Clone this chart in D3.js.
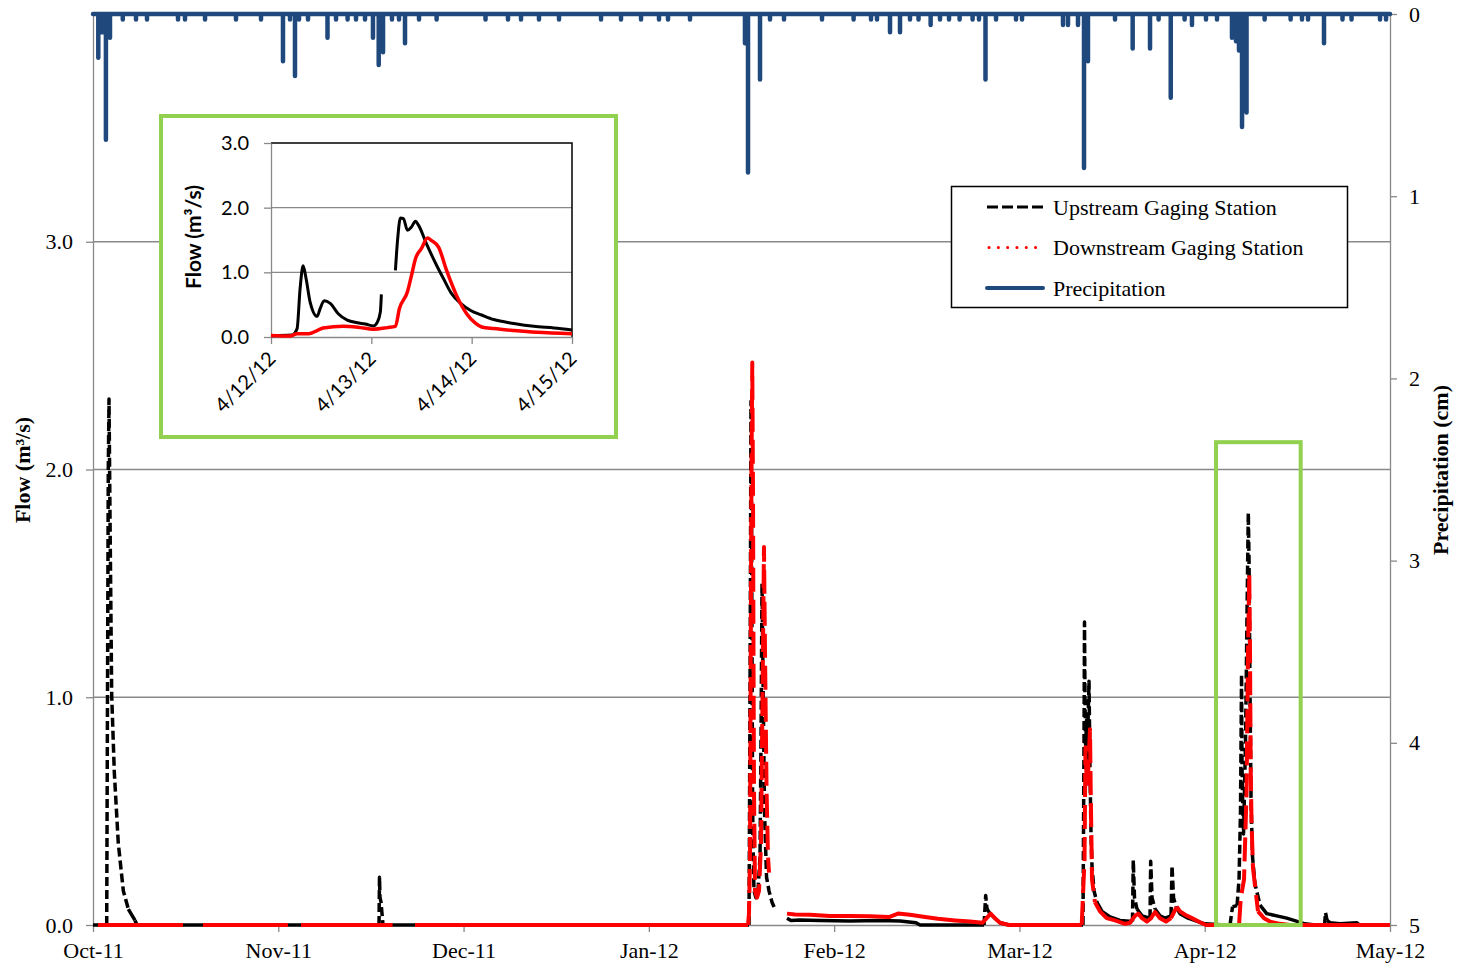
<!DOCTYPE html>
<html>
<head>
<meta charset="utf-8">
<script src="https://cdn.jsdelivr.net/npm/d3@7"></script>
<style>
  body { margin: 0; background: #fff; }
  svg { display: block; font-family: "Liberation Serif", "Times New Roman", serif; }
</style>
</head>
<body>
<svg id="chart" width="1458" height="967"></svg>
<script>
// ---- data (days counted from Oct 1 2011) ----
var totalDays = 213;
var monthLabels = ["Oct-11", "Nov-11", "Dec-11", "Jan-12", "Feb-12", "Mar-12", "Apr-12", "May-12"];
var flowTicks = [0, 1, 2, 3];
var precipTicks = [0, 1, 2, 3, 4, 5];

// precipitation, [day, cm]
var precipEvents = [
  [0.87,0.24],[1.48,0.10],[2.12,0.69],[2.79,0.13],[4.89,0.03],[7.06,0.03],[8.87,0.03],[13.96,0.03],
  [15.11,0.03],[18.4,0.03],[23.48,0.03],[27.59,0.03],[31.2,0.26],[32.35,0.03],[33.17,0.34],[33.83,0.03],
  [35.31,0.03],[38.51,0.13],[39.91,0.03],[41.81,0.03],[43.19,0.03],[44.67,0.03],[45.98,0.13],[46.92,0.28],
  [47.63,0.21],[49.1,0.03],[50.25,0.03],[51.24,0.16],[53.54,0.03],[56.43,0.03],[64.46,0.03],[68.15,0.03],
  [70.29,0.03],[73.24,0.03],[76.53,0.03],[83.43,0.03],[86.71,0.03],[90.0,0.03],[92.95,0.03],[94.43,0.03],
  [98.04,0.03],[107.07,0.16],[107.57,0.87],[109.54,0.36],[111.18,0.03],[113.48,0.03],[119.72,0.03],
  [124.91,0.03],[127.77,0.03],[128.75,0.03],[130.89,0.10],[132.53,0.10],[134.17,0.03],[135.57,0.03],
  [137.56,0.06],[139.1,0.03],[140.58,0.03],[142.32,0.03],[144.45,0.03],[145.5,0.03],[146.57,0.36],
  [148.3,0.03],[151.58,0.03],[152.57,0.03],[159.3,0.06],[160.12,0.06],[161.76,0.06],[162.75,0.845],
  [163.4,0.26],[167.84,0.03],[170.74,0.19],[173.59,0.19],[175.0,0.03],[176.99,0.46],[179.27,0.03],
  [180.48,0.06],[182.78,0.03],[184.59,0.03],[187.05,0.13],[187.71,0.15],[188.2,0.2],[188.7,0.62],
  [189.03,0.4],[189.44,0.54],[192.41,0.03],[196.68,0.03],[198.55,0.03],[199.54,0.03],[202.16,0.16],
  [205.2,0.03],[206.68,0.03],[211.36,0.03],[212.35,0.03]
];

// upstream gaging station, [day, m3/s]; null = no record
var upstream = [
  [0,0],[2.25,0],[2.38,1.0],[2.51,2.0],[2.63,2.31],[2.79,1.8],[3.07,1.01],[3.50,0.67],[4.15,0.36],
  [4.98,0.15],[5.80,0.07],[6.90,0.02],[7.23,0],
  [46.97,0],[47.05,0.21],[47.13,0.12],[47.30,0.1],[47.46,0.05],[47.63,0],
  [107.73,0],[107.81,0.45],[107.94,1.3],[108.06,2.3],[108.14,1.9],[108.23,1.2],[108.31,0.6],[108.39,0.35],
  [108.55,0.15],[108.88,0.12],[109.21,0.15],[109.54,0.3],[109.70,0.8],[109.87,1.5],[110.03,1.1],
  [110.28,0.5],[110.61,0.21],[111.02,0.15],[111.51,0.1],[112.00,0.07],null,
  [113.97,0.03],[114.62,0.02],[116.1,0.022],[119.39,0.02],[124.31,0.018],[129.24,0.02],[132.53,0.018],
  [135.16,0.01],[135.82,0],[146.33,0],[146.60,0.13],[146.82,0.07],[147.31,0.05],[148.13,0.03],
  [148.95,0.01],[150.43,0],
  [162.58,0],[162.75,0.8],[162.83,1.33],[162.91,1.0],[162.99,0.75],[163.16,0.9],[163.24,0.7],[163.57,1.07],
  [163.73,0.68],[163.90,0.4],[164.06,0.26],[164.39,0.15],[164.88,0.1],[165.70,0.06],[167.02,0.035],
  [168.66,0.02],[170.71,0.015],[170.84,0.285],[171.04,0.12],[171.45,0.07],[172.27,0.04],[173.59,0.03],
  [173.70,0.28],[173.92,0.12],[174.41,0.07],[175.23,0.04],[176.05,0.03],[177.04,0.04],[177.20,0.26],
  [177.45,0.12],[177.86,0.08],[178.51,0.05],[179.83,0.03],[181.47,0.015],[182.62,0.005],[185.91,0],
  [186.73,0],[187.14,0.08],[187.88,0.085],[188.21,0.2],[188.45,0.5],[188.62,1.1],[188.70,0.69],
  [188.78,0.57],[188.95,0.4],[189.27,0.8],[189.36,1.0],[189.52,1.37],[189.73,1.81],[189.85,1.6],
  [190.01,1.03],[190.18,0.55],[190.42,0.3],[190.83,0.18],[191.65,0.088],[192.75,0.05],[194.40,0.04],
  [196.04,0.03],[197.89,0.015],[199.04,0.005],[200.69,0],[202.25,0],[202.41,0.055],[202.66,0.02],
  [203.15,0.01],[204.79,0.005],[207.51,0.01],[208,0],[213,0]
];

// downstream gaging station, [day, m3/s]; null = no record
var downstream = [
  [0.82,0],[14.78,0],null,[18.06,0],[32.02,0],null,[34.16,0],[49.20,0],null,[52.88,0],[107.57,0],
  [107.73,0.05],[107.90,0.3],[107.98,0.9],[108.06,1.5],[108.14,2.0],[108.27,2.47],[108.39,1.9],
  [108.47,1.2],[108.55,0.6],[108.72,0.15],[109.05,0.12],[109.37,0.15],[109.70,0.35],[109.95,1.0],
  [110.19,1.66],[110.36,1.2],[110.61,0.6],[110.85,0.3],[111.02,0.23],null,
  [113.97,0.05],[115.28,0.046],[117.75,0.045],[121.03,0.04],[124.31,0.04],[127.60,0.038],[130.72,0.035],
  [132.20,0.05],[134.17,0.045],[136.64,0.035],[138.77,0.027],[141.56,0.02],[144.03,0.015],[146.09,0.01],
  [147.41,0.05],[148.30,0.025],[148.95,0.01],[150.43,0],
  [162.37,0],[162.83,0.285],[162.99,0.78],[163.12,0.68],[163.32,0.6],[163.73,0.86],[163.85,0.59],
  [164.06,0.2],[164.55,0.1],[165.37,0.06],[166.47,0.03],[167.84,0.02],[169.48,0.005],[170.30,0.01],
  [171.12,0.04],[171.66,0.05],[172.27,0.03],[173.09,0.015],[173.75,0.03],[174.41,0.057],[175.23,0.03],
  [176.22,0.015],[177.04,0.03],[177.97,0.08],[178.51,0.06],[179.34,0.045],[180.48,0.03],[181.80,0.012],
  [182.78,0],
  [188.21,0],[188.45,0.1],[188.70,0.15],[189.03,0.2],[189.44,0.58],[189.68,1.19],[189.89,1.54],
  [190.01,1.2],[190.12,0.69],[190.26,0.45],[190.50,0.25],[191.32,0.06],[192.31,0.03],[193.29,0.015],
  [194.93,0.005],[196.57,0],[213,0]
];

// highlighted storm window shown in the inset
var zoomWindow = { start: 184.43, end: 198.33, top: 2.12 };

// inset, days from 4/12/12
var insetLabels = ["4/12/12", "4/13/12", "4/14/12", "4/15/12"];
var insetFlowTicks = [0, 1, 2, 3];
var insetUp = [
  [0,0.02],[0.21,0.03],[0.26,0.13],[0.29,0.75],[0.32,1.10],[0.35,0.90],[0.39,0.54],[0.46,0.32],
  [0.49,0.44],[0.53,0.56],[0.59,0.52],[0.67,0.36],[0.76,0.26],[0.86,0.22],[0.94,0.20],[1.02,0.17],
  [1.06,0.23],[1.09,0.39],[1.10,0.66],null,
  [1.24,1.03],[1.26,1.47],[1.29,1.84],[1.32,1.83],[1.36,1.65],[1.40,1.70],[1.44,1.79],[1.47,1.73],
  [1.55,1.44],[1.65,1.11],[1.72,0.90],[1.80,0.67],[1.89,0.52],[1.99,0.41],[2.10,0.34],[2.22,0.27],
  [2.42,0.21],[2.62,0.165],[2.82,0.14],[3.0,0.11]
];
var insetDown = [
  [0,0.025],[0.19,0.015],[0.26,0.05],[0.375,0.05],[0.46,0.10],[0.52,0.14],[0.72,0.165],[0.89,0.145],
  [1.02,0.12],[1.16,0.145],[1.24,0.165],[1.28,0.44],[1.36,0.70],[1.40,0.95],[1.44,1.21],[1.50,1.37],
  [1.56,1.53],[1.60,1.49],[1.67,1.39],[1.75,1.03],[1.85,0.64],[1.95,0.36],[2.04,0.21],[2.10,0.155],
  [2.22,0.13],[2.42,0.10],[2.65,0.072],[3.0,0.05]
];

var legendItems = ["Upstream Gaging Station", "Downstream Gaging Station", "Precipitation"];

// ---- setup ----
var svg = d3.select("#chart");
var gray = "#898989", green = "#92D050", blue = "#1F497D";

var x = d3.scaleLinear().domain([0, totalDays]).range([93, 1390]);
var yF = d3.scaleLinear().domain([0, 4]).range([925, 14]);
var yP = d3.scaleLinear().domain([0, 5]).range([14, 925]);
var monthTicks = monthLabels.map((m, i) => i * totalDays / (monthLabels.length - 1));

svg.append("rect").attr("width", 1458).attr("height", 967).attr("fill", "#fff");

// gridlines
svg.append("g").selectAll("line")
  .data([1, 2, 3, 4])
  .join("line")
  .attr("x1", 93).attr("x2", 1390)
  .attr("y1", d => yF(d)).attr("y2", d => yF(d))
  .attr("stroke", gray).attr("stroke-width", 1.3);

function styleAxis(g, size) {
  g.select(".domain").attr("stroke", gray).attr("stroke-width", 1.3);
  g.selectAll(".tick line").attr("stroke", gray).attr("stroke-width", 1.3);
  g.selectAll(".tick text").attr("fill", "#000").style("font-size", size + "px");
  g.attr("font-family", null);
}

svg.append("g")
  .attr("transform", "translate(93,0)")
  .call(d3.axisLeft(yF).tickValues(flowTicks).tickFormat(d3.format(".1f")).tickSize(7).tickSizeOuter(0).tickPadding(13))
  .call(g => styleAxis(g, 22));

svg.append("g")
  .attr("transform", "translate(1390,0)")
  .call(d3.axisRight(yP).tickValues(precipTicks).tickFormat(d3.format("d")).tickSize(7).tickSizeOuter(0).tickPadding(12))
  .call(g => styleAxis(g, 22));

svg.append("g")
  .attr("transform", "translate(0,925)")
  .call(d3.axisBottom(x).tickValues(monthTicks).tickFormat((d, i) => monthLabels[i]).tickSize(7).tickSizeOuter(0).tickPadding(10))
  .call(g => styleAxis(g, 22));

// axis titles
svg.append("text")
  .attr("transform", "translate(30,470) rotate(-90)")
  .attr("text-anchor", "middle")
  .style("font-size", "22px").style("font-weight", "bold")
  .html("Flow (m<tspan>³</tspan>/s)");

svg.append("text")
  .attr("transform", "translate(1448,470) rotate(-90)")
  .attr("text-anchor", "middle")
  .style("font-size", "22px").style("font-weight", "bold")
  .text("Precipitation (cm)");

// flow series: steep stretches get the dash pattern, flat stretches stay solid
function drawSeries(parent, data, xs, ys, color, width, dash) {
  var line = d3.line().x(d => xs(d[0])).y(d => ys(d[1]));
  var runs = [], cur = null;
  for (var i = 1; i < data.length; i++) {
    var a = data[i - 1], b = data[i];
    if (!a || !b) { cur = null; continue; }
    var dx = Math.abs(xs(b[0]) - xs(a[0])), dy = Math.abs(ys(b[1]) - ys(a[1]));
    var steep = dy > 2 * dx && dy > 3;
    if (!cur || cur.steep !== steep) {
      cur = { steep: steep, pts: [a] };
      runs.push(cur);
    }
    cur.pts.push(b);
  }
  parent.append("g").selectAll("path")
    .data(runs)
    .join("path")
    .attr("d", r => line(r.pts))
    .attr("fill", "none")
    .attr("stroke", color)
    .attr("stroke-width", width)
    .attr("stroke-linejoin", "round")
    .attr("stroke-dasharray", r => r.steep ? dash : null);
}

drawSeries(svg, upstream, x, yF, "#000", 3.5, "9,4");
drawSeries(svg, downstream, x, yF, "#FF0000", 4, "24,8");

// precipitation hangs from the top axis
var precipPts = [[0, 0]];
precipEvents.forEach(e => { precipPts.push([e[0], 0], e, [e[0], 0]); });
precipPts.push([totalDays, 0]);

svg.append("path")
  .datum(precipPts)
  .attr("d", d3.line().x(d => x(d[0])).y(d => yP(d[1])))
  .attr("fill", "none")
  .attr("stroke", blue)
  .attr("stroke-width", 4.5)
  .attr("stroke-linejoin", "round")
  .attr("stroke-linecap", "round");

// highlighted window
svg.append("rect")
  .attr("x", x(zoomWindow.start))
  .attr("y", yF(zoomWindow.top))
  .attr("width", x(zoomWindow.end) - x(zoomWindow.start))
  .attr("height", yF(0) - yF(zoomWindow.top))
  .attr("fill", "none")
  .attr("stroke", green)
  .attr("stroke-width", 4);

// ---- inset ----
var inset = svg.append("g").style("font-family", "Lato, 'Noto Sans', sans-serif");
inset.append("rect")
  .attr("x", 161).attr("y", 116).attr("width", 455).attr("height", 321)
  .attr("fill", "#fff").attr("stroke", green).attr("stroke-width", 4);

var ix = d3.scaleLinear().domain([0, 3]).range([271, 572]);
var iy = d3.scaleLinear().domain([0, 3]).range([337, 143]);

inset.append("g").selectAll("line")
  .data([1, 2])
  .join("line")
  .attr("x1", ix(0)).attr("x2", ix(3))
  .attr("y1", d => iy(d)).attr("y2", d => iy(d))
  .attr("stroke", gray).attr("stroke-width", 1.3);

inset.append("path")
  .attr("d", "M" + ix(0) + "," + iy(3) + "H" + ix(3) + "V" + iy(0))
  .attr("fill", "none").attr("stroke", "#000").attr("stroke-width", 1.5);

inset.append("g")
  .attr("transform", "translate(" + ix(0) + ",0)")
  .call(d3.axisLeft(iy).tickValues(insetFlowTicks).tickFormat(d3.format(".1f")).tickSize(7).tickSizeOuter(0).tickPadding(15))
  .call(g => styleAxis(g, 20));

inset.append("g")
  .attr("transform", "translate(0," + iy(0) + ")")
  .call(d3.axisBottom(ix).tickValues([0, 1, 2, 3]).tickFormat("").tickSize(7).tickSizeOuter(0))
  .call(g => styleAxis(g, 20));

inset.append("g").selectAll("text")
  .data(insetLabels)
  .join("text")
  .attr("transform", (d, i) => "translate(" + (ix(i) + 6) + ",360) rotate(-45)")
  .attr("text-anchor", "end")
  .style("font-size", "20px")
  .text(d => d);

inset.append("text")
  .attr("transform", "translate(201,237) rotate(-90)")
  .attr("text-anchor", "middle")
  .style("font-size", "21px").style("font-weight", "bold")
  .text("Flow (m³/s)");

var insetLine = d3.line().defined(d => d).x(d => ix(d[0])).y(d => iy(d[1])).curve(d3.curveMonotoneX);
inset.append("path").datum(insetUp)
  .attr("d", insetLine).attr("fill", "none").attr("stroke", "#000").attr("stroke-width", 3);
inset.append("path").datum(insetDown)
  .attr("d", insetLine).attr("fill", "none").attr("stroke", "#FF0000").attr("stroke-width", 3.5);

// ---- legend ----
var legend = svg.append("g");
legend.append("rect")
  .attr("x", 951.5).attr("y", 186.5).attr("width", 396).attr("height", 121)
  .attr("fill", "#fff").attr("stroke", "#000").attr("stroke-width", 1.5);

var legendStyles = [
  { color: "#000", width: 3, dash: "11,4", cap: "butt" },
  { color: "#FF0000", width: 3, dash: "0.1,9.2", cap: "round" },
  { color: blue, width: 4, dash: null, cap: "round" }
];

var rows = legend.selectAll("g.row")
  .data(legendItems)
  .join("g")
  .attr("class", "row")
  .attr("transform", (d, i) => "translate(0," + (207 + i * 40.5) + ")");

rows.append("line")
  .attr("x1", (d, i) => i === 1 ? 989 : 987).attr("x2", 1043)
  .attr("stroke", (d, i) => legendStyles[i].color)
  .attr("stroke-width", (d, i) => legendStyles[i].width)
  .attr("stroke-dasharray", (d, i) => legendStyles[i].dash)
  .attr("stroke-linecap", (d, i) => legendStyles[i].cap);

rows.append("text")
  .attr("x", 1053).attr("dy", "0.35em")
  .style("font-size", "22px")
  .text(d => d);
</script>
</body>
</html>
